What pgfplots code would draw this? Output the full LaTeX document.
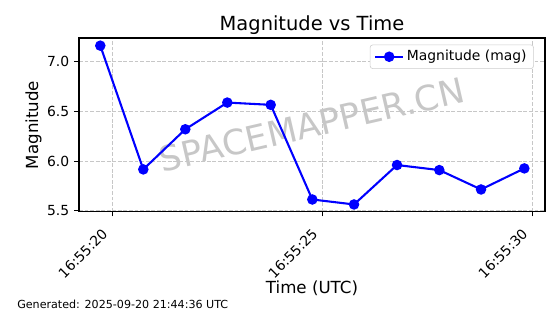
\documentclass[border=0pt]{standalone}
\usepackage{fontspec}
\setmainfont{DejaVu Sans}
\usepackage{pgfplots}
\pgfplotsset{compat=1.18}
\definecolor{mplblue}{RGB}{0,0,255}
\begin{document}
\begin{tikzpicture}
\path[use as bounding box] (0,0) rectangle (403.2pt,226.08pt);
\begin{axis}[
  at={(56.88pt,73.8pt)}, anchor=south west,
  scale only axis, width=335.52pt, height=124.92pt,
  xmin=19.207, xmax=30.302, ymin=5.492, ymax=7.239,
  xtick={20,25,30}, xticklabels={16:55:20,16:55:25,16:55:30},
  ytick={5.5,6.0,6.5,7.0},
  y tick label style={/pgf/number format/.cd, fixed, fixed zerofill, precision=1},
  /pgf/number format/assume math mode=true,
  tick label style={font=\fontsize{10}{12}\selectfont},
  x tick label style={xshift=-8pt, yshift=-6.5pt, rotate=45, anchor=north east, inner sep=1pt},
  tick align=outside, tick pos=left,
  major tick length=3.5pt,
  tick style={black, line width=0.8pt},
  axis line style={line width=0.8pt},
  grid=major,
  grid style={black!22, line width=0.5pt, dash pattern=on 2.8pt off 1.2pt},
  legend style={at={(0.976,0.962)}, anchor=north east, draw=black!20,
    rounded corners=2pt, font=\fontsize{10}{12}\selectfont,
    inner xsep=3pt, inner ysep=2pt},
  legend cell align=left,
  legend image code/.code={\draw[mark repeat=2,mark phase=2] plot coordinates {(0pt,0pt)(10pt,0pt)(20pt,0pt)};},
]
\node[rotate=13, text=black!22, font=\fontsize{25}{30}\selectfont] at (rel axis cs:0.5,0.5) {SPACEMAPPER.CN};
\addplot[mplblue, line width=1.5pt, mark=*, mark size=3pt, mark options={solid, fill=mplblue}]
  coordinates {
  (19.714,7.162) (20.738,5.916) (21.738,6.320) (22.738,6.589) (23.771,6.566)
  (24.762,5.613) (25.755,5.563) (26.779,5.960) (27.786,5.909) (28.779,5.714)
  (29.810,5.926)
  };
\addlegendentry{Magnitude (mag)}
\end{axis}
\node[anchor=base, font=\fontsize{14}{16}\selectfont] at (224.64pt,204.48pt) {Magnitude vs Time};
\node[anchor=base, font=\fontsize{12}{14}\selectfont] at (224.64pt,15.12pt) {Time (UTC)};
\node[anchor=base, rotate=90, font=\fontsize{12}{14}\selectfont] at (27.36pt,136.08pt) {Magnitude};
\node[anchor=base west, inner sep=0pt, font=\fontsize{8}{10}\selectfont] at (12.24pt,4.32pt) {Generated: 2025-09-20 21:44:36 UTC};
\end{tikzpicture}
\end{document}
